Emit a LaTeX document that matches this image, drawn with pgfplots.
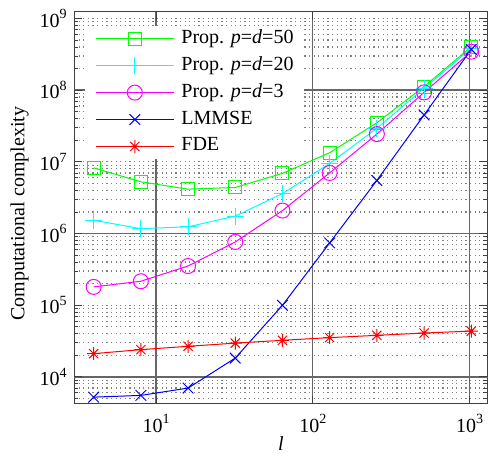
\documentclass[border=0pt]{standalone}
\usepackage{pgfplots}
\pgfplotsset{compat=1.18}
\usepackage{fontspec}
\setmainfont{Liberation Serif}
\newcommand\sups[1]{\raisebox{0.42em}{\fontsize{14}{14}\selectfont #1}}
\definecolor{mgreen}{rgb}{0,1,0}
\definecolor{mcyan}{rgb}{0,1,1}
\definecolor{mmag}{rgb}{1,0,1}
\definecolor{mblue}{rgb}{0,0,1}
\definecolor{mred}{rgb}{1,0,0}
\definecolor{gridmaj}{rgb}{0.4,0.4,0.4}
\definecolor{gridmin}{rgb}{0.5,0.5,0.5}
\pgfdeclareplotmark{mstar}{%
 \pgfpathmoveto{\pgfpoint{-\pgfplotmarksize}{0pt}}\pgfpathlineto{\pgfpoint{\pgfplotmarksize}{0pt}}%
 \pgfpathmoveto{\pgfpoint{0pt}{-\pgfplotmarksize}}\pgfpathlineto{\pgfpoint{0pt}{\pgfplotmarksize}}%
 \pgfpathmoveto{\pgfpoint{-.707\pgfplotmarksize}{-.707\pgfplotmarksize}}\pgfpathlineto{\pgfpoint{.707\pgfplotmarksize}{.707\pgfplotmarksize}}%
 \pgfpathmoveto{\pgfpoint{-.707\pgfplotmarksize}{.707\pgfplotmarksize}}\pgfpathlineto{\pgfpoint{.707\pgfplotmarksize}{-.707\pgfplotmarksize}}%
 \pgfusepathqstroke}
\begin{document}
\begin{tikzpicture}
\begin{axis}[
 at={(0,0)}, anchor=south west,
 scale only axis, width=413pt, height=392pt,
 xmode=log, ymode=log,
 xmin=3, xmax=1300, ymin=4200, ymax=1.25e9,
 axis line style={draw=black!75, line width=0.9pt},
 xtick={10,100,1000},
 xticklabels={10\sups{1},10\sups{2},10\sups{3}},
 ytick={1e4,1e5,1e6,1e7,1e8,1e9},
 yticklabels={10\sups{4},10\sups{5},10\sups{6},10\sups{7},10\sups{8},10\sups{9}},
 minor ytick={5000,6000,7000,8000,9000,
  2e4,3e4,4e4,5e4,6e4,7e4,8e4,9e4,
  2e5,3e5,4e5,5e5,6e5,7e5,8e5,9e5,
  2e6,3e6,4e6,5e6,6e6,7e6,8e6,9e6,
  2e7,3e7,4e7,5e7,6e7,7e7,8e7,9e7,
  2e8,3e8,4e8,5e8,6e8,7e8,8e8,9e8},
 xminorticks=false,
 tick pos=both, tick align=inside,
 major tick length=8pt, minor tick length=4pt,
 every tick/.style={black!75, line width=0.8pt},
 xmajorgrids, ymajorgrids, yminorgrids,
 major x grid style={solid, gridmaj, line width=1.3pt},
 major y grid style={gridmin, line width=1.2pt, dash pattern=on 1.2pt off 3.4pt},
 minor y grid style={gridmin, line width=1.2pt, dash pattern=on 1.2pt off 3.4pt},
 extra y ticks={1e4,1e6,1e8}, extra y tick labels={},
 extra y tick style={ymajorgrids=true, major y grid style={solid, gridmaj, line width=1.3pt}},
 tick label style={font=\fontsize{20}{24}\selectfont},
 yticklabel style={xshift=-4pt},
 xticklabel style={yshift=-7pt},
 xlabel={\textit{l}}, ylabel={Computational complexity},
 label style={font=\fontsize{20}{24}\selectfont},
 xlabel style={yshift=3pt},
 ylabel style={yshift=4pt, xshift=-6pt},
 legend style={at={(0.0266,0.963)}, anchor=north west, fill=white, draw=none,
   font=\fontsize{20}{24}\selectfont, inner xsep=10pt, inner ysep=3pt,
   row sep=7.9pt, nodes={inner sep=0pt, text height=14pt, text depth=5pt},
   column sep=7pt},
 legend cell align=left,
 legend image code/.code={\draw[mark repeat=2,mark phase=2,#1] plot coordinates {(0pt,0pt) (39pt,0pt) (78pt,0pt)};},
 every axis plot/.append style={line width=1pt},
]
\addplot[mgreen, mark=square, mark size=6.5pt] coordinates {
 (4,8.24e6) (8,5.26e6) (16,4.16e6) (32,4.39e6) (64,6.9e6) (128,1.34e7) (256,3.5e7) (512,1.12e8) (1024,4.04e8)};
\addlegendentry{Prop. \textit{p}=\textit{d}=50}
\addplot[mcyan, mark=+, mark size=8.5pt] coordinates {
 (4,1.53e6) (8,1.17e6) (16,1.24e6) (32,1.75e6) (64,3.6e6) (128,9.5e6) (256,2.93e7) (512,1.06e8) (1024,3.84e8)};
\addlegendentry{Prop. \textit{p}=\textit{d}=20}
\addplot[mmag, mark=o, mark size=7.5pt] coordinates {
 (4,1.8e5) (8,2.16e5) (16,3.52e5) (32,7.63e5) (64,2.09e6) (128,7.0e6) (256,2.44e7) (512,9.3e7) (1024,3.44e8)};
\addlegendentry{Prop. \textit{p}=\textit{d}=3}
\addplot[mblue, mark=x, mark size=7.5pt] coordinates {
 (4,5220) (8,5520) (16,6980) (32,1.83e4) (64,9.97e4) (128,7.39e5) (256,5.5e6) (512,4.5e7) (1024,3.7e8)};
\addlegendentry{LMMSE}
\addplot[mred, mark=mstar, mark size=6.5pt] coordinates {
 (4,21100) (8,24000) (16,26700) (32,29600) (64,32400) (128,35300) (256,38000) (512,40900) (1024,43600)};
\addlegendentry{FDE}
\end{axis}
\pgfresetboundingbox
\path[use as bounding box] (-74pt,-51.5pt) rectangle (413.5pt,403.5pt);
\end{tikzpicture}
\end{document}
